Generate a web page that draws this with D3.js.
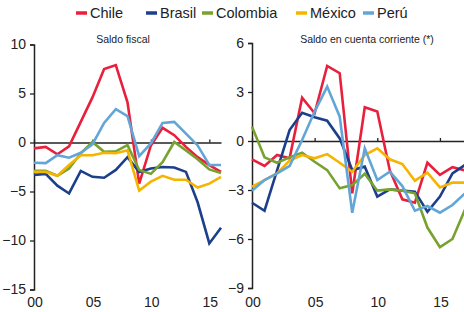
<!DOCTYPE html>
<html>
<head>
<meta charset="utf-8">
<script src="https://cdn.jsdelivr.net/npm/d3@7"></script>
<style>
  body { margin: 0; background: #fff; }
  svg text { font-family: "Liberation Sans", Arial, sans-serif; fill: #222; }
</style>
</head>
<body>
<div id="chart"></div>
<script>
// Data
const COUNTRIES = ["Chile", "Brasil", "Colombia", "México", "Perú"];
const COLORS = ["#e8203c", "#1c3f8c", "#78a22f", "#f4b400", "#62a6d8"];

// Saldo fiscal, 2000-2016
const FISCAL_YEARS = d3.range(2000, 2017);
const FISCAL_CHILE    = [-0.6, -0.45, -1.2, -0.4, 2.1, 4.6, 7.5, 7.9, 4.1, -4.2, -0.3, 1.5, 0.75, -0.45, -1.5, -2.3, -3.0];
const FISCAL_BRASIL   = [-3.3, -3.2, -4.4, -5.2, -2.9, -3.5, -3.6, -2.8, -1.5, -3.0, -2.65, -2.5, -2.55, -3.0, -6.1, -10.3, -8.7];
const FISCAL_COLOMBIA = [-2.9, -2.9, -3.4, -2.65, -1.1, 0.05, -0.95, -0.9, -0.27, -2.8, -3.2, -2.0, 0.05, -0.8, -1.7, -2.75, -3.1];
const FISCAL_MEXICO   = [-3.0, -3.0, -3.4, -2.3, -1.3, -1.3, -1.05, -1.1, -0.8, -4.9, -4.0, -3.4, -3.8, -3.8, -4.6, -4.2, -3.5];
const FISCAL_PERU     = [-2.07, -2.1, -1.3, -1.55, -1.05, -0.2, 2.0, 3.4, 2.7, -1.4, -0.1, 2.0, 2.1, 0.9, -0.3, -2.3, -2.3];

// Saldo en cuenta corriente, 2000-2017
const CA_YEARS = d3.range(2000, 2018);
const CA_CHILE    = [-1.12, -1.53, -0.86, -1.06, 2.65, 1.7, 4.6, 4.15, -3.2, 2.06, 1.8, -1.8, -3.57, -3.78, -1.33, -2.08, -1.6, -1.8];
const CA_BRASIL   = [-3.78, -4.27, -1.8, 0.67, 1.73, 1.45, 1.24, 0.16, -1.78, -1.57, -3.4, -2.96, -3.04, -3.1, -4.33, -3.4, -1.98, -1.47];
const CA_COLOMBIA = [0.88, -1.0, -1.33, -1.0, -0.71, -1.27, -1.78, -2.9, -2.7, -2.0, -3.04, -2.96, -3.04, -3.2, -5.3, -6.5, -6.0, -4.2];
const CA_MEXICO   = [-2.8, -2.39, -1.98, -1.2, -0.86, -1.06, -0.8, -1.33, -1.88, -0.86, -0.45, -1.12, -1.41, -2.43, -1.94, -2.84, -2.55, -2.55];
const CA_PERU     = [-3.04, -2.39, -1.98, -1.53, 0.06, 1.8, 3.33, 1.49, -4.4, -0.45, -2.39, -1.88, -2.76, -4.27, -3.98, -4.39, -3.92, -3.2];

const FISCAL_TICKS = [10, 5, 0, -5, -10, -15];
const CA_TICKS = [6, 3, 0, -3, -6, -9];
const YEAR_TICKS = [2000, 2005, 2010, 2015];

const FRAME_WIDTH = 464;
const FRAME_HEIGHT = 312;

const FRAME = d3.select("#chart")
                .append("svg")
                  .attr("width", FRAME_WIDTH)
                  .attr("height", FRAME_HEIGHT);

// legend
const LEGEND_X = [76, 146, 202, 296, 363];
COUNTRIES.forEach((c, i) => {
  const g = FRAME.append("g").attr("transform", "translate(" + LEGEND_X[i] + ",13)");
  g.append("line").attr("x1", 0).attr("x2", 11).attr("y1", 0).attr("y2", 0)
    .attr("stroke", COLORS[i]).attr("stroke-width", 3.5);
  g.append("text").attr("x", 14).attr("y", 5).attr("font-size", 14.5).text(c);
});

function build_panel(opts) {
  const X_SCALE = d3.scaleLinear().domain(opts.xDomain).range(opts.xRange);
  const Y_SCALE = d3.scaleLinear().domain(opts.yDomain).range(opts.yRange);
  const g = FRAME.append("g");

  // title
  g.append("text")
    .attr("x", opts.titleX).attr("y", 43)
    .attr("text-anchor", "middle")
    .attr("font-size", 10.5)
    .text(opts.title);

  // y axis
  const yAxis = g.append("g")
    .attr("transform", "translate(" + opts.xRange[0] + ",0)")
    .call(d3.axisLeft(Y_SCALE).tickValues(opts.yTicks).tickSize(4).tickPadding(4).tickFormat(d3.format("d")));
  yAxis.select(".domain").attr("stroke", "#222").attr("stroke-width", 1.5);
  yAxis.selectAll(".tick line").attr("stroke", "#222").attr("stroke-width", 1.3);
  yAxis.selectAll("text").attr("font-size", 14).style("font-family", "Liberation Sans, Arial, sans-serif").attr("fill", "#222");

  // zero line with small ticks pointing up
  const zAxis = g.append("g")
    .attr("transform", "translate(0," + Y_SCALE(0) + ")")
    .call(d3.axisTop(X_SCALE).tickValues(YEAR_TICKS).tickSize(3).tickSizeOuter(0).tickFormat(""));
  zAxis.select(".domain").attr("stroke", "#222").attr("stroke-width", 1.5);
  zAxis.selectAll(".tick line").attr("stroke", "#222").attr("stroke-width", 1.3);

  // year labels at the bottom
  YEAR_TICKS.forEach((yr) => {
    g.append("text")
      .attr("x", X_SCALE(yr) + 1).attr("y", 307)
      .attr("text-anchor", "middle")
      .attr("font-size", 14)
      .text(d3.format("02d")(yr % 100));
  });

  // lines
  const line = d3.line()
    .x((d, i) => X_SCALE(opts.years[i]))
    .y(d => Y_SCALE(d));

  opts.series.forEach((s, i) => {
    g.append("path")
      .datum(s)
      .attr("fill", "none")
      .attr("stroke", COLORS[i])
      .attr("stroke-width", 2.6)
      .attr("stroke-linejoin", "miter")
      .attr("d", line);
  });
}

build_panel({
  title: "Saldo fiscal",
  titleX: 123,
  years: FISCAL_YEARS,
  xDomain: [2000, 2016], xRange: [34, 221],
  yDomain: [-15, 10], yRange: [289.5, 44.5],
  yTicks: FISCAL_TICKS,
  series: [FISCAL_CHILE, FISCAL_BRASIL, FISCAL_COLOMBIA, FISCAL_MEXICO, FISCAL_PERU]
});

build_panel({
  title: "Saldo en cuenta corriente (*)",
  titleX: 367,
  years: CA_YEARS,
  xDomain: [2000, 2017], xRange: [252, 465],
  yDomain: [-9, 6], yRange: [288, 43],
  yTicks: CA_TICKS,
  series: [CA_CHILE, CA_BRASIL, CA_COLOMBIA, CA_MEXICO, CA_PERU]
});
</script>
</body>
</html>
